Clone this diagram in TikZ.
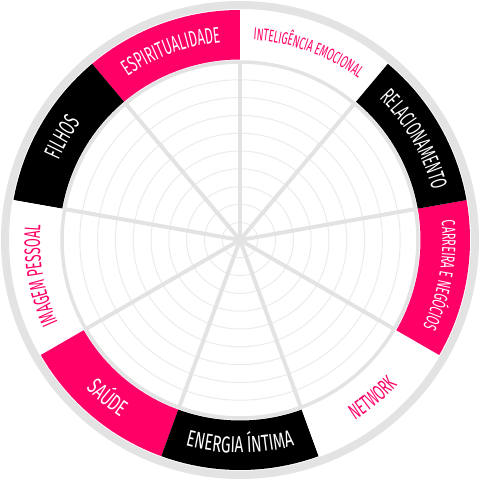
\documentclass[tikz,border=0pt]{standalone}
\usepackage{fontspec}
\newfontfamily\wheelfont{Fira Sans}[FakeStretch=0.57]
\newfontfamily\widefont{Fira Sans}[FakeStretch=0.66]
\usepackage{xcolor}
\usepackage{tikz}
\usetikzlibrary{decorations.text}

\definecolor{wpink}{HTML}{FF0066}
\definecolor{wgray}{HTML}{E3E3E3}
\definecolor{wthin}{HTML}{EBEBEB}

% band segment centred on angle #1, filled with #2
\newcommand{\wheelseg}[2]{%
  \fill[#2] (#1-20:180.5pt) arc[start angle=#1-20, end angle=#1+20, radius=180.5pt]
    -- (#1+20:230pt) arc[start angle=#1+20, end angle=#1-20, radius=230pt] -- cycle;}

% label on the band, read clockwise: angle, radius, colour, font, text
\newcommand{\labelcw}[5]{%
  \path[decorate, decoration={text along path, text align=center, text color=#3,
    text={|#4|#5}}]
    (#1+30:#2) arc[start angle=#1+30, end angle=#1-30, radius=#2];}
% same, read counter-clockwise
\newcommand{\labelccw}[5]{%
  \path[decorate, decoration={text along path, text align=center, text color=#3,
    text={|#4|#5}}]
    (#1-30:#2) arc[start angle=#1-30, end angle=#1+30, radius=#2];}

\begin{document}
\begin{tikzpicture}[
  spoke/.style={draw=wgray, line width=4pt},
  thinring/.style={draw=wthin, line width=1pt},
  thickring/.style={draw=wgray, line width=3.5pt},
  rim/.style={draw=wgray, line width=8pt}
]
  \useasboundingbox (-240pt,-240pt) rectangle (240pt,240pt);
  \coordinate (O) at (0,0);

  % grid
  \foreach \k in {1,...,9}
    \draw[thinring] (O) circle[radius=17.8pt*\k];
  \foreach \a in {10,50,...,330}
    \draw[spoke] (O) -- (\a:178pt);
  \draw[thickring] (O) circle[radius=178pt];

  % band
  \wheelseg{70}{white}
  \wheelseg{110}{wpink}
  \wheelseg{150}{black}
  \wheelseg{190}{white}
  \wheelseg{230}{wpink}
  \wheelseg{270}{black}
  \wheelseg{310}{white}
  \wheelseg{350}{wpink}
  \wheelseg{30}{black}
  \draw[rim] (O) circle[radius=235pt];

  % labels
  \labelcw{70}{200.5pt}{wpink}{\wheelfont\fontsize{17}{17}\selectfont}{INTELIGÊNCIA EMOCIONAL}
  \labelcw{110}{198.5pt}{white}{\wheelfont\fontsize{22.5}{22.5}\selectfont}{ESPIRITUALIDADE}
  \labelcw{150}{198pt}{white}{\wheelfont\fontsize{24}{24}\selectfont}{FILHOS}
  \labelcw{190}{200pt}{wpink}{\wheelfont\fontsize{22.5}{22.5}\selectfont}{IMAGEM PESSOAL}
  \labelccw{230}{214pt}{white}{\widefont\fontsize{23}{23}\selectfont}{SAÚDE}
  \labelccw{270}{213pt}{white}{\widefont\fontsize{23}{23}\selectfont}{ENERGIA ÍNTIMA}
  \labelccw{310}{214pt}{wpink}{\wheelfont\fontsize{22}{22}\selectfont}{NETWORK}
  \labelcw{350}{202.5pt}{white}{\wheelfont\fontsize{19}{19}\selectfont}{CARREIRA E NEGÓCIOS}
  \labelcw{30}{198.5pt}{white}{\wheelfont\fontsize{23}{23}\selectfont}{RELACIONAMENTO}
\end{tikzpicture}
\end{document}
